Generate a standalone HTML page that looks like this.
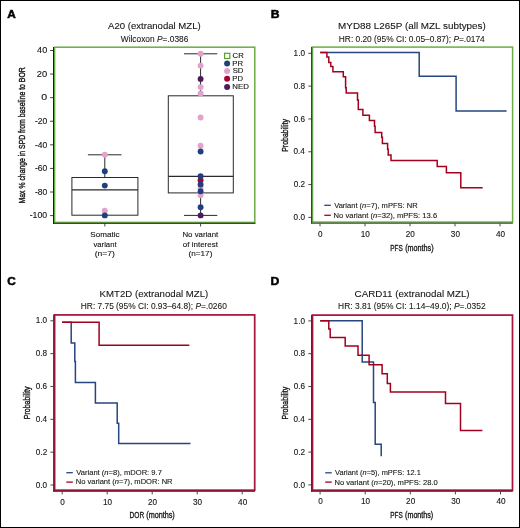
<!DOCTYPE html>
<html><head><meta charset="utf-8"><title>Figure</title>
<style>
html,body{margin:0;padding:0;background:#fff;}
body{width:520px;height:528px;overflow:hidden;}
svg{display:block;will-change:transform;}
text{stroke:#151515;stroke-width:0.12px;paint-order:stroke;font-family:"Liberation Sans",sans-serif;}
</style></head><body>
<svg width="520" height="528" viewBox="0 0 520 528">
<rect x="0" y="0" width="520" height="528" fill="#fff"/>
<text x="7.31" y="17.80" font-size="11.6" textLength="8.52" lengthAdjust="spacingAndGlyphs" fill="#000" font-weight="bold" style="stroke-width:0.55px">A</text>
<text x="270.66" y="17.80" font-size="11.6" textLength="8.76" lengthAdjust="spacingAndGlyphs" fill="#000" font-weight="bold" style="stroke-width:0.55px">B</text>
<text x="7.23" y="285.30" font-size="11.6" textLength="8.49" lengthAdjust="spacingAndGlyphs" fill="#000" font-weight="bold" style="stroke-width:0.55px">C</text>
<text x="270.61" y="285.20" font-size="11.6" textLength="8.81" lengthAdjust="spacingAndGlyphs" fill="#000" font-weight="bold" style="stroke-width:0.55px">D</text>
<text x="108.00" y="29.10" font-size="9.6" textLength="92.69" lengthAdjust="spacingAndGlyphs" fill="#151515" style="stroke-width:0.1px">A20 (extranodal MZL)</text>
<text x="120.76" y="41.70" font-size="8.3" textLength="67.59" lengthAdjust="spacingAndGlyphs" fill="#151515" style="stroke-width:0.08px">Wilcoxon <tspan font-style="italic">P</tspan>=.0386</text>
<text x="338.11" y="28.90" font-size="9.6" textLength="147.70" lengthAdjust="spacingAndGlyphs" fill="#151515" style="stroke-width:0.1px">MYD88 L265P (all MZL subtypes)</text>
<text x="338.83" y="41.70" font-size="8.3" textLength="145.93" lengthAdjust="spacingAndGlyphs" fill="#151515" style="stroke-width:0.08px">HR: 0.20 (95% CI: 0.05–0.87); <tspan font-style="italic">P</tspan>=.0174</text>
<text x="99.63" y="296.60" font-size="9.6" textLength="108.66" lengthAdjust="spacingAndGlyphs" fill="#151515" style="stroke-width:0.1px">KMT2D (extranodal MZL)</text>
<text x="80.83" y="309.20" font-size="8.3" textLength="145.97" lengthAdjust="spacingAndGlyphs" fill="#151515" style="stroke-width:0.08px">HR: 7.75 (95% CI: 0.93–64.8); <tspan font-style="italic">P</tspan>=.0260</text>
<text x="354.61" y="296.60" font-size="9.6" textLength="115.01" lengthAdjust="spacingAndGlyphs" fill="#151515" style="stroke-width:0.1px">CARD11 (extranodal MZL)</text>
<text x="338.13" y="309.20" font-size="8.3" textLength="147.51" lengthAdjust="spacingAndGlyphs" fill="#151515" style="stroke-width:0.08px">HR: 3.81 (95% CI: 1.14–49.0); <tspan font-style="italic">P</tspan>=.0352</text>
<rect x="54.6" y="47.2" width="200.2" height="175.2" fill="none" stroke="#6aad45" stroke-width="1.5"/>
<line x1="53.5" y1="47" x2="53.5" y2="223.8" stroke="#1a1a1a" stroke-width="1"/>
<line x1="53" y1="223.3" x2="255.5" y2="223.3" stroke="#1a1a1a" stroke-width="1"/>
<line x1="50" y1="50.470000000000006" x2="53" y2="50.470000000000006" stroke="#333" stroke-width="0.9"/>
<text x="37.12" y="53.27" font-size="8.6" textLength="10.12" lengthAdjust="spacingAndGlyphs" fill="#151515">40</text>
<line x1="50" y1="74.06" x2="53" y2="74.06" stroke="#333" stroke-width="0.9"/>
<text x="36.83" y="76.86" font-size="8.6" textLength="10.42" lengthAdjust="spacingAndGlyphs" fill="#151515">20</text>
<line x1="50" y1="97.65" x2="53" y2="97.65" stroke="#333" stroke-width="0.9"/>
<text x="41.38" y="100.45" font-size="8.6" textLength="5.91" lengthAdjust="spacingAndGlyphs" fill="#151515">0</text>
<line x1="50" y1="121.24000000000001" x2="53" y2="121.24000000000001" stroke="#333" stroke-width="0.9"/>
<text x="34.92" y="124.04" font-size="8.6" textLength="12.28" lengthAdjust="spacingAndGlyphs" fill="#151515">-20</text>
<line x1="50" y1="144.83" x2="53" y2="144.83" stroke="#333" stroke-width="0.9"/>
<text x="34.92" y="147.63" font-size="8.6" textLength="12.28" lengthAdjust="spacingAndGlyphs" fill="#151515">-40</text>
<line x1="50" y1="168.42000000000002" x2="53" y2="168.42000000000002" stroke="#333" stroke-width="0.9"/>
<text x="34.92" y="171.22" font-size="8.6" textLength="12.28" lengthAdjust="spacingAndGlyphs" fill="#151515">-60</text>
<line x1="50" y1="192.01" x2="53" y2="192.01" stroke="#333" stroke-width="0.9"/>
<text x="34.92" y="194.81" font-size="8.6" textLength="12.28" lengthAdjust="spacingAndGlyphs" fill="#151515">-80</text>
<line x1="50" y1="215.60000000000002" x2="53" y2="215.60000000000002" stroke="#333" stroke-width="0.9"/>
<text x="29.71" y="218.40" font-size="8.6" textLength="17.51" lengthAdjust="spacingAndGlyphs" fill="#151515">-100</text>
<text transform="translate(25.30,135.30) rotate(-90)" x="-68.20" y="0" font-size="9.9" textLength="136.18" lengthAdjust="spacingAndGlyphs" fill="#151515" style="stroke-width:0.4px">Max % change in SPD from baseline to BOR</text>
<line x1="104.8" y1="223.5" x2="104.8" y2="226.5" stroke="#333" stroke-width="0.9"/>
<line x1="200.6" y1="223.5" x2="200.6" y2="226.5" stroke="#333" stroke-width="0.9"/>
<text x="90.23" y="237.00" font-size="8.1" textLength="29.39" lengthAdjust="spacingAndGlyphs" fill="#151515">Somatic</text>
<text x="93.46" y="246.90" font-size="8.1" textLength="23.09" lengthAdjust="spacingAndGlyphs" fill="#151515">variant</text>
<text x="94.69" y="255.50" font-size="8.1" textLength="20.25" lengthAdjust="spacingAndGlyphs" fill="#151515">(n=7)</text>
<text x="182.47" y="236.90" font-size="8.1" textLength="35.69" lengthAdjust="spacingAndGlyphs" fill="#151515">No variant</text>
<text x="182.78" y="246.90" font-size="8.1" textLength="35.17" lengthAdjust="spacingAndGlyphs" fill="#151515">of interest</text>
<text x="188.51" y="255.70" font-size="8.1" textLength="23.91" lengthAdjust="spacingAndGlyphs" fill="#151515">(n=17)</text>
<rect x="71.9" y="177.5" width="66" height="37.7" fill="none" stroke="#2a2a2a" stroke-width="1"/>
<line x1="71.9" y1="189.8" x2="137.9" y2="189.8" stroke="#2a2a2a" stroke-width="1.3"/>
<line x1="104.8" y1="154.8" x2="104.8" y2="177.5" stroke="#2a2a2a" stroke-width="1"/>
<line x1="87.9" y1="154.8" x2="121.5" y2="154.8" stroke="#2a2a2a" stroke-width="1"/>
<rect x="168.3" y="95.8" width="65" height="97.1" fill="none" stroke="#2a2a2a" stroke-width="1"/>
<line x1="168.3" y1="176.4" x2="233.3" y2="176.4" stroke="#2a2a2a" stroke-width="1.3"/>
<line x1="200.6" y1="53.8" x2="200.6" y2="95.8" stroke="#2a2a2a" stroke-width="1"/>
<line x1="184" y1="53.8" x2="217.3" y2="53.8" stroke="#2a2a2a" stroke-width="1"/>
<line x1="200.6" y1="192.9" x2="200.6" y2="215.4" stroke="#2a2a2a" stroke-width="1"/>
<line x1="184" y1="215.4" x2="217.3" y2="215.4" stroke="#2a2a2a" stroke-width="1"/>
<circle cx="104.8" cy="154.8" r="2.95" fill="#e1a3cb"/>
<circle cx="104.8" cy="210.8" r="2.95" fill="#e1a3cb"/>
<circle cx="104.8" cy="171.3" r="2.95" fill="#213f7e"/>
<circle cx="104.8" cy="185.6" r="2.95" fill="#213f7e"/>
<circle cx="104.8" cy="215.4" r="2.95" fill="#213f7e"/>
<circle cx="200.6" cy="53.8" r="2.95" fill="#e1a3cb"/>
<circle cx="200.6" cy="65.6" r="2.95" fill="#e1a3cb"/>
<circle cx="200.6" cy="87.1" r="2.95" fill="#e1a3cb"/>
<circle cx="200.6" cy="93.5" r="2.95" fill="#e1a3cb"/>
<circle cx="200.6" cy="117.5" r="2.95" fill="#e1a3cb"/>
<circle cx="200.6" cy="145.8" r="2.95" fill="#e1a3cb"/>
<circle cx="200.6" cy="187.8" r="2.95" fill="#e1a3cb"/>
<circle cx="200.6" cy="195.2" r="2.95" fill="#e1a3cb"/>
<circle cx="200.6" cy="180.2" r="2.95" fill="#ab0030"/>
<circle cx="200.6" cy="151.5" r="2.95" fill="#213f7e"/>
<circle cx="200.6" cy="176.3" r="2.95" fill="#213f7e"/>
<circle cx="200.6" cy="184.5" r="2.95" fill="#213f7e"/>
<circle cx="200.6" cy="191.2" r="2.95" fill="#213f7e"/>
<circle cx="200.6" cy="207.3" r="2.95" fill="#213f7e"/>
<circle cx="200.6" cy="79" r="2.95" fill="#4a1b5d"/>
<circle cx="200.6" cy="215.4" r="2.95" fill="#4a1b5d"/>
<rect x="224.6" y="53.3" width="5.2" height="5.2" fill="none" stroke="#5aa02c" stroke-width="1.2"/>
<circle cx="227.1" cy="63.4" r="3.0" fill="#213f7e"/>
<circle cx="227.1" cy="70.9" r="3.0" fill="#e1a3cb"/>
<circle cx="227.1" cy="78.8" r="3.0" fill="#ab0030"/>
<circle cx="227.1" cy="86.9" r="3.0" fill="#4a1b5d"/>
<text x="232.62" y="58.40" font-size="7.0" textLength="11.12" lengthAdjust="spacingAndGlyphs" fill="#151515">CR</text>
<text x="232.38" y="65.90" font-size="7.0" textLength="10.70" lengthAdjust="spacingAndGlyphs" fill="#151515">PR</text>
<text x="232.65" y="73.40" font-size="7.0" textLength="10.70" lengthAdjust="spacingAndGlyphs" fill="#151515">SD</text>
<text x="232.38" y="81.30" font-size="7.0" textLength="10.70" lengthAdjust="spacingAndGlyphs" fill="#151515">PD</text>
<text x="232.37" y="89.40" font-size="7.0" textLength="16.59" lengthAdjust="spacingAndGlyphs" fill="#151515">NED</text>
<rect x="312.5" y="47.1" width="200.10000000000002" height="175.0" fill="none" stroke="#6aad45" stroke-width="1.5"/>
<line x1="311.6" y1="46.9" x2="311.6" y2="223.5" stroke="#1a1a1a" stroke-width="0.9"/>
<line x1="311.1" y1="223.2" x2="512.9" y2="223.2" stroke="#1a1a1a" stroke-width="0.9"/>
<line x1="308.3" y1="53.3" x2="311.5" y2="53.3" stroke="#333" stroke-width="0.9"/>
<text x="293.60" y="55.95" font-size="8.4" textLength="11.39" lengthAdjust="spacingAndGlyphs" fill="#151515">1.0</text>
<line x1="308.3" y1="86.12" x2="311.5" y2="86.12" stroke="#333" stroke-width="0.9"/>
<text x="293.64" y="88.77" font-size="8.4" textLength="11.39" lengthAdjust="spacingAndGlyphs" fill="#151515">0.8</text>
<line x1="308.3" y1="118.94000000000001" x2="311.5" y2="118.94000000000001" stroke="#333" stroke-width="0.9"/>
<text x="293.64" y="121.59" font-size="8.4" textLength="11.39" lengthAdjust="spacingAndGlyphs" fill="#151515">0.6</text>
<line x1="308.3" y1="151.76" x2="311.5" y2="151.76" stroke="#333" stroke-width="0.9"/>
<text x="293.56" y="154.41" font-size="8.4" textLength="11.39" lengthAdjust="spacingAndGlyphs" fill="#151515">0.4</text>
<line x1="308.3" y1="184.58000000000004" x2="311.5" y2="184.58000000000004" stroke="#333" stroke-width="0.9"/>
<text x="293.73" y="187.23" font-size="8.4" textLength="11.39" lengthAdjust="spacingAndGlyphs" fill="#151515">0.2</text>
<line x1="308.3" y1="217.40000000000003" x2="311.5" y2="217.40000000000003" stroke="#333" stroke-width="0.9"/>
<text x="293.60" y="220.05" font-size="8.4" textLength="11.39" lengthAdjust="spacingAndGlyphs" fill="#151515">0.0</text>
<line x1="320.0" y1="223.6" x2="320.0" y2="226.3" stroke="#333" stroke-width="0.9"/>
<text x="318.11" y="236.90" font-size="8.4" textLength="4.56" lengthAdjust="spacingAndGlyphs" fill="#151515">0</text>
<line x1="365.0" y1="223.6" x2="365.0" y2="226.3" stroke="#333" stroke-width="0.9"/>
<text x="360.69" y="236.90" font-size="8.4" textLength="9.11" lengthAdjust="spacingAndGlyphs" fill="#151515">10</text>
<line x1="410.0" y1="223.6" x2="410.0" y2="226.3" stroke="#333" stroke-width="0.9"/>
<text x="405.79" y="236.90" font-size="8.4" textLength="9.11" lengthAdjust="spacingAndGlyphs" fill="#151515">20</text>
<line x1="455.0" y1="223.6" x2="455.0" y2="226.3" stroke="#333" stroke-width="0.9"/>
<text x="450.83" y="236.90" font-size="8.4" textLength="9.11" lengthAdjust="spacingAndGlyphs" fill="#151515">30</text>
<line x1="500.0" y1="223.6" x2="500.0" y2="226.3" stroke="#333" stroke-width="0.9"/>
<text x="495.92" y="236.90" font-size="8.4" textLength="9.11" lengthAdjust="spacingAndGlyphs" fill="#151515">40</text>
<text transform="translate(287.80,135.20) rotate(-90)" x="-16.66" y="0" font-size="9.5" textLength="32.76" lengthAdjust="spacingAndGlyphs" fill="#151515" style="stroke-width:0.36px">Probability</text>
<text x="390.29" y="250.50" font-size="8.8" textLength="12.50" lengthAdjust="spacingAndGlyphs" fill="#151515" style="stroke-width:0.32px">PFS</text>
<text x="405.17" y="250.50" font-size="8.8" textLength="28.40" lengthAdjust="spacingAndGlyphs" fill="#151515" style="stroke-width:0.32px">(months)</text>
<path d="M320.2,52.4 H419.2 V76.3 H456.1 V110.9 H506.6" fill="none" stroke="#26467f" stroke-width="1.5" stroke-linejoin="miter" stroke-linecap="butt"/>
<path d="M320.2,52.6 H326.9 V57.1 H328.8 V62.5 H330.8 V66.6 H332.9 V71.8 H343.3 V76.7 H345.6 V87.7 H346.2 V92.9 H357.5 V100 H358.3 V104.4 V109.6 H362.9 V115.2 H369.4 V120.6 H374.5 V126.3 H375.1 V132.5 H381.7 V137.3 H382.4 V143.6 H387.6 V149.2 H388.2 V155.0 H391.0 V160.4 H437.2 V166.5 H446.4 V172.7 H460.8 V187.7 H482.7" fill="none" stroke="#a3001f" stroke-width="1.5" stroke-linejoin="miter" stroke-linecap="butt"/>
<line x1="324.3" y1="205.3" x2="330.8" y2="205.3" stroke="#26467f" stroke-width="1.3"/>
<line x1="324.3" y1="215.3" x2="330.8" y2="215.3" stroke="#a3001f" stroke-width="1.3"/>
<text x="334.16" y="207.80" font-size="7.5" textLength="83.49" lengthAdjust="spacingAndGlyphs" fill="#151515" style="stroke-width:0.1px">Variant (<tspan font-style="italic">n</tspan>=7), mPFS: NR</text>
<text x="333.59" y="217.70" font-size="7.5" textLength="103.61" lengthAdjust="spacingAndGlyphs" fill="#151515" style="stroke-width:0.1px">No variant (<tspan font-style="italic">n</tspan>=32), mPFS: 13.6</text>
<rect x="54.6" y="314.9" width="200.1" height="175.30000000000007" fill="none" stroke="#a8163e" stroke-width="1.75"/>
<line x1="53.7" y1="314.7" x2="53.7" y2="491.6" stroke="#1a1a1a" stroke-width="0.9"/>
<line x1="53.2" y1="491.3" x2="255.0" y2="491.3" stroke="#1a1a1a" stroke-width="0.9"/>
<line x1="50.4" y1="320.8" x2="53.6" y2="320.8" stroke="#333" stroke-width="0.9"/>
<text x="35.70" y="323.45" font-size="8.4" textLength="11.39" lengthAdjust="spacingAndGlyphs" fill="#151515">1.0</text>
<line x1="50.4" y1="353.64" x2="53.6" y2="353.64" stroke="#333" stroke-width="0.9"/>
<text x="35.74" y="356.29" font-size="8.4" textLength="11.39" lengthAdjust="spacingAndGlyphs" fill="#151515">0.8</text>
<line x1="50.4" y1="386.48" x2="53.6" y2="386.48" stroke="#333" stroke-width="0.9"/>
<text x="35.74" y="389.13" font-size="8.4" textLength="11.39" lengthAdjust="spacingAndGlyphs" fill="#151515">0.6</text>
<line x1="50.4" y1="419.32" x2="53.6" y2="419.32" stroke="#333" stroke-width="0.9"/>
<text x="35.66" y="421.97" font-size="8.4" textLength="11.39" lengthAdjust="spacingAndGlyphs" fill="#151515">0.4</text>
<line x1="50.4" y1="452.15999999999997" x2="53.6" y2="452.15999999999997" stroke="#333" stroke-width="0.9"/>
<text x="35.83" y="454.81" font-size="8.4" textLength="11.39" lengthAdjust="spacingAndGlyphs" fill="#151515">0.2</text>
<line x1="50.4" y1="485.0" x2="53.6" y2="485.0" stroke="#333" stroke-width="0.9"/>
<text x="35.70" y="487.65" font-size="8.4" textLength="11.39" lengthAdjust="spacingAndGlyphs" fill="#151515">0.0</text>
<line x1="62.2" y1="491.70000000000005" x2="62.2" y2="494.40000000000003" stroke="#333" stroke-width="0.9"/>
<text x="60.31" y="504.60" font-size="8.4" textLength="4.56" lengthAdjust="spacingAndGlyphs" fill="#151515">0</text>
<line x1="107.2" y1="491.70000000000005" x2="107.2" y2="494.40000000000003" stroke="#333" stroke-width="0.9"/>
<text x="102.89" y="504.60" font-size="8.4" textLength="9.11" lengthAdjust="spacingAndGlyphs" fill="#151515">10</text>
<line x1="152.2" y1="491.70000000000005" x2="152.2" y2="494.40000000000003" stroke="#333" stroke-width="0.9"/>
<text x="147.99" y="504.60" font-size="8.4" textLength="9.11" lengthAdjust="spacingAndGlyphs" fill="#151515">20</text>
<line x1="197.2" y1="491.70000000000005" x2="197.2" y2="494.40000000000003" stroke="#333" stroke-width="0.9"/>
<text x="193.03" y="504.60" font-size="8.4" textLength="9.11" lengthAdjust="spacingAndGlyphs" fill="#151515">30</text>
<line x1="242.2" y1="491.70000000000005" x2="242.2" y2="494.40000000000003" stroke="#333" stroke-width="0.9"/>
<text x="238.12" y="504.60" font-size="8.4" textLength="9.11" lengthAdjust="spacingAndGlyphs" fill="#151515">40</text>
<text transform="translate(30.10,402.60) rotate(-90)" x="-16.66" y="0" font-size="9.5" textLength="32.76" lengthAdjust="spacingAndGlyphs" fill="#151515" style="stroke-width:0.36px">Probability</text>
<text x="129.58" y="517.90" font-size="8.8" textLength="14.53" lengthAdjust="spacingAndGlyphs" fill="#151515" style="stroke-width:0.32px">DOR</text>
<text x="146.27" y="517.90" font-size="8.8" textLength="28.40" lengthAdjust="spacingAndGlyphs" fill="#151515" style="stroke-width:0.32px">(months)</text>
<path d="M62.2,322.3 H71.2 V342.9 H74.8 V361.5 H75.4 V382.6 H95.4 V403.0 H117.2 V423.2 H118.7 V443.5 H190.5" fill="none" stroke="#26467f" stroke-width="1.5" stroke-linejoin="miter" stroke-linecap="butt"/>
<path d="M62.0,322.2 H99.1 V345.2 H189.3" fill="none" stroke="#a3001f" stroke-width="1.5" stroke-linejoin="miter" stroke-linecap="butt"/>
<line x1="66.3" y1="472.7" x2="72.8" y2="472.7" stroke="#26467f" stroke-width="1.3"/>
<line x1="66.3" y1="482.1" x2="72.8" y2="482.1" stroke="#a3001f" stroke-width="1.3"/>
<text x="76.26" y="474.80" font-size="7.5" textLength="85.62" lengthAdjust="spacingAndGlyphs" fill="#151515" style="stroke-width:0.1px">Variant (<tspan font-style="italic">n</tspan>=8), mDOR: 9.7</text>
<text x="75.69" y="484.40" font-size="7.5" textLength="96.88" lengthAdjust="spacingAndGlyphs" fill="#151515" style="stroke-width:0.1px">No variant (<tspan font-style="italic">n</tspan>=7), mDOR: NR</text>
<rect x="312.5" y="315.1" width="200.0" height="175.10000000000002" fill="none" stroke="#a8163e" stroke-width="1.75"/>
<line x1="311.6" y1="314.90000000000003" x2="311.6" y2="491.6" stroke="#1a1a1a" stroke-width="0.9"/>
<line x1="311.1" y1="491.3" x2="512.8" y2="491.3" stroke="#1a1a1a" stroke-width="0.9"/>
<line x1="308.3" y1="320.9" x2="311.5" y2="320.9" stroke="#333" stroke-width="0.9"/>
<text x="293.60" y="323.55" font-size="8.4" textLength="11.39" lengthAdjust="spacingAndGlyphs" fill="#151515">1.0</text>
<line x1="308.3" y1="353.7" x2="311.5" y2="353.7" stroke="#333" stroke-width="0.9"/>
<text x="293.64" y="356.35" font-size="8.4" textLength="11.39" lengthAdjust="spacingAndGlyphs" fill="#151515">0.8</text>
<line x1="308.3" y1="386.5" x2="311.5" y2="386.5" stroke="#333" stroke-width="0.9"/>
<text x="293.64" y="389.15" font-size="8.4" textLength="11.39" lengthAdjust="spacingAndGlyphs" fill="#151515">0.6</text>
<line x1="308.3" y1="419.29999999999995" x2="311.5" y2="419.29999999999995" stroke="#333" stroke-width="0.9"/>
<text x="293.56" y="421.95" font-size="8.4" textLength="11.39" lengthAdjust="spacingAndGlyphs" fill="#151515">0.4</text>
<line x1="308.3" y1="452.09999999999997" x2="311.5" y2="452.09999999999997" stroke="#333" stroke-width="0.9"/>
<text x="293.73" y="454.75" font-size="8.4" textLength="11.39" lengthAdjust="spacingAndGlyphs" fill="#151515">0.2</text>
<line x1="308.3" y1="484.9" x2="311.5" y2="484.9" stroke="#333" stroke-width="0.9"/>
<text x="293.60" y="487.55" font-size="8.4" textLength="11.39" lengthAdjust="spacingAndGlyphs" fill="#151515">0.0</text>
<line x1="320.1" y1="491.70000000000005" x2="320.1" y2="494.40000000000003" stroke="#333" stroke-width="0.9"/>
<text x="318.21" y="504.40" font-size="8.4" textLength="4.56" lengthAdjust="spacingAndGlyphs" fill="#151515">0</text>
<line x1="365.20000000000005" y1="491.70000000000005" x2="365.20000000000005" y2="494.40000000000003" stroke="#333" stroke-width="0.9"/>
<text x="360.89" y="504.40" font-size="8.4" textLength="9.11" lengthAdjust="spacingAndGlyphs" fill="#151515">10</text>
<line x1="410.3" y1="491.70000000000005" x2="410.3" y2="494.40000000000003" stroke="#333" stroke-width="0.9"/>
<text x="406.09" y="504.40" font-size="8.4" textLength="9.11" lengthAdjust="spacingAndGlyphs" fill="#151515">20</text>
<line x1="455.40000000000003" y1="491.70000000000005" x2="455.40000000000003" y2="494.40000000000003" stroke="#333" stroke-width="0.9"/>
<text x="451.23" y="504.40" font-size="8.4" textLength="9.11" lengthAdjust="spacingAndGlyphs" fill="#151515">30</text>
<line x1="500.5" y1="491.70000000000005" x2="500.5" y2="494.40000000000003" stroke="#333" stroke-width="0.9"/>
<text x="496.42" y="504.40" font-size="8.4" textLength="9.11" lengthAdjust="spacingAndGlyphs" fill="#151515">40</text>
<text transform="translate(287.80,402.80) rotate(-90)" x="-16.66" y="0" font-size="9.5" textLength="32.76" lengthAdjust="spacingAndGlyphs" fill="#151515" style="stroke-width:0.36px">Probability</text>
<text x="390.19" y="517.70" font-size="8.8" textLength="12.50" lengthAdjust="spacingAndGlyphs" fill="#151515" style="stroke-width:0.32px">PFS</text>
<text x="405.07" y="517.70" font-size="8.8" textLength="28.20" lengthAdjust="spacingAndGlyphs" fill="#151515" style="stroke-width:0.32px">(months)</text>
<path d="M320.2,320.8 H362.2 V362.1 H373.5 V402.6 H375.2 V444.3 H381.2 V456.2" fill="none" stroke="#26467f" stroke-width="1.5" stroke-linejoin="miter" stroke-linecap="butt"/>
<path d="M320.2,320.8 H328.8 V329.1 H330.2 V337.5 H345.2 V345.9 H358.0 V355.2 H369.1 V364.8 H382.1 V373.7 H387.3 V383.5 H390.4 V391.9 H445.5 V403.5 H460.5 V430.5 H482.4" fill="none" stroke="#a3001f" stroke-width="1.5" stroke-linejoin="miter" stroke-linecap="butt"/>
<line x1="325.2" y1="472.8" x2="331.75" y2="472.8" stroke="#26467f" stroke-width="1.3"/>
<line x1="325.2" y1="482.1" x2="331.75" y2="482.1" stroke="#a3001f" stroke-width="1.3"/>
<text x="335.06" y="475.10" font-size="7.5" textLength="85.76" lengthAdjust="spacingAndGlyphs" fill="#151515" style="stroke-width:0.1px">Variant (<tspan font-style="italic">n</tspan>=5), mPFS: 12.1</text>
<text x="334.49" y="484.70" font-size="7.5" textLength="103.27" lengthAdjust="spacingAndGlyphs" fill="#151515" style="stroke-width:0.1px">No variant (<tspan font-style="italic">n</tspan>=20), mPFS: 28.0</text>
<rect x="0.5" y="0.5" width="519" height="527" fill="none" stroke="#000" stroke-width="1"/>
</svg>
</body></html>
